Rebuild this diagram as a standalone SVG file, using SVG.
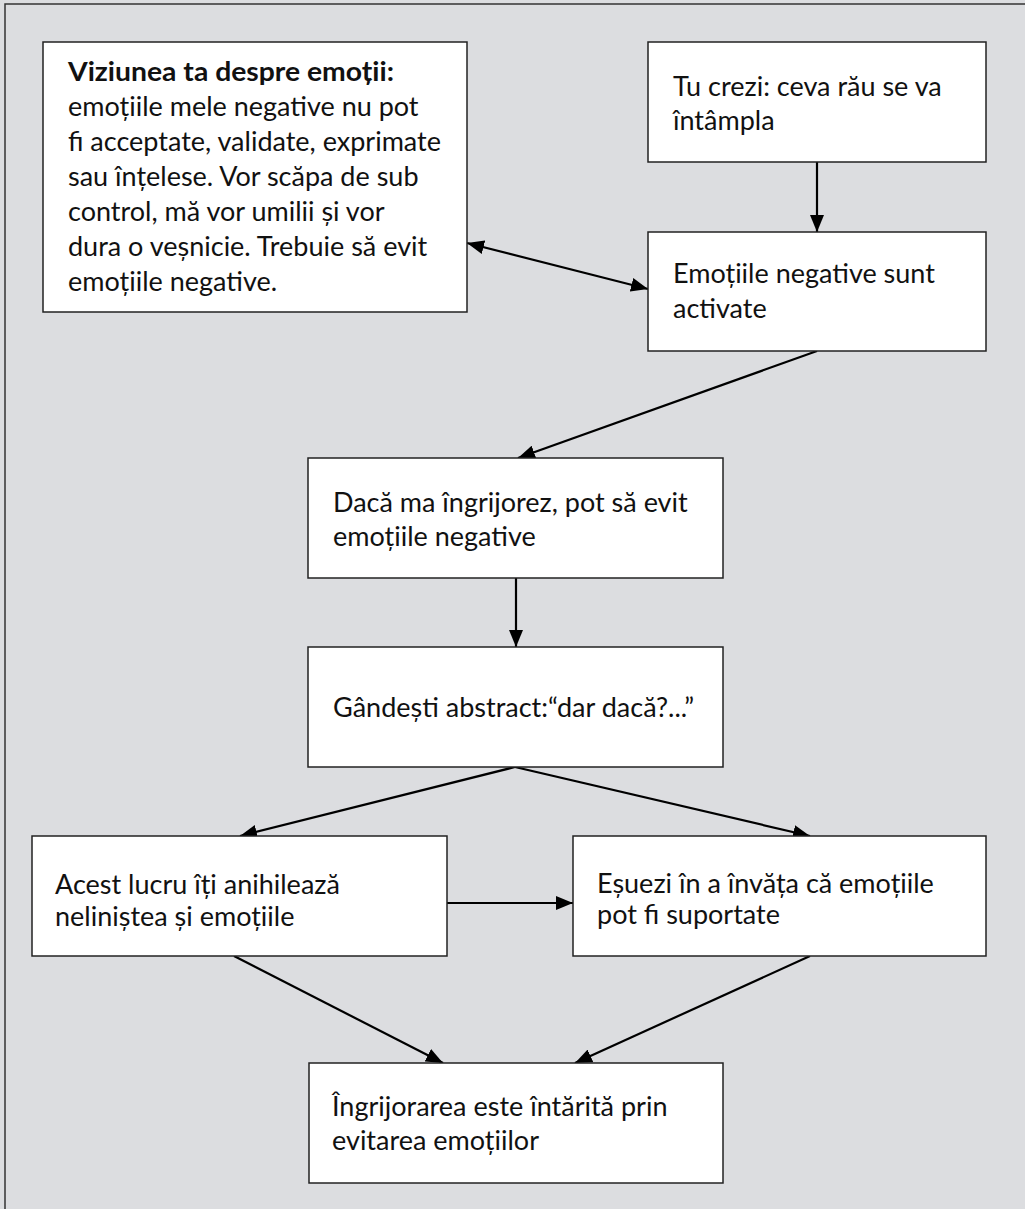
<svg xmlns="http://www.w3.org/2000/svg" width="1025" height="1209" viewBox="0 0 1025 1209">
<defs>
<style>
.box{fill:#ffffff;stroke:#222;stroke-width:1.5}
.t{font-family:Lato,"Open Sans","DejaVu Sans",sans-serif;font-size:27px;fill:#111}
.b{font-weight:bold}
.c{stroke:#000;stroke-width:2.2;fill:none}
</style>
<marker id="ah" markerUnits="userSpaceOnUse" markerWidth="18" markerHeight="14" refX="17" refY="7" orient="auto-start-reverse">
<path d="M0,0 L17,7 L0,14 z" fill="#000"/>
</marker>
</defs>
<rect x="0" y="0" width="1025" height="1209" fill="#dcdde0"/>
<rect x="5" y="4" width="1030" height="1220" fill="#dcdde0" stroke="#333" stroke-width="1.5"/>

<g id="connectors">
<line class="c" x1="817" y1="162" x2="817" y2="232" marker-end="url(#ah)"/>
<line class="c" x1="467" y1="243" x2="648" y2="289" marker-start="url(#ah)" marker-end="url(#ah)"/>
<line class="c" x1="817" y1="351" x2="518" y2="458" marker-end="url(#ah)"/>
<line class="c" x1="516" y1="578" x2="516" y2="647" marker-end="url(#ah)"/>
<line class="c" x1="515" y1="767" x2="240" y2="836" marker-end="url(#ah)"/>
<line class="c" x1="515" y1="767" x2="810" y2="836" marker-end="url(#ah)"/>
<line class="c" x1="447" y1="903" x2="573" y2="903" marker-end="url(#ah)"/>
<line class="c" x1="234" y1="956" x2="443" y2="1063" marker-end="url(#ah)"/>
<line class="c" x1="810" y1="956" x2="575" y2="1063" marker-end="url(#ah)"/>
</g>

<g id="node-viziunea">
<rect class="box" x="43" y="42" width="424" height="270"/>
<text class="t"><tspan class="b" x="68" y="81" textLength="326" lengthAdjust="spacingAndGlyphs">Viziunea ta despre emoții:</tspan><tspan x="68" y="116">emoțiile mele negative nu pot</tspan><tspan x="68" y="151">fi acceptate, validate, exprimate</tspan><tspan x="68" y="186">sau înțelese. Vor scăpa de sub</tspan><tspan x="68" y="221">control, mă vor umilii și vor</tspan><tspan x="68" y="256">dura o veșnicie. Trebuie să evit</tspan><tspan x="68" y="291">emoțiile negative.</tspan></text>
</g>

<g id="node-crezi">
<rect class="box" x="648" y="42" width="338" height="120"/>
<text class="t"><tspan x="673" y="96">Tu crezi: ceva rău se va</tspan><tspan x="673" y="130">întâmpla</tspan></text>
</g>

<g id="node-activate">
<rect class="box" x="648" y="232" width="338" height="119"/>
<text class="t"><tspan x="673" y="283">Emoțiile negative sunt</tspan><tspan x="673" y="318">activate</tspan></text>
</g>

<g id="node-daca">
<rect class="box" x="308" y="458" width="415" height="120"/>
<text class="t"><tspan x="333" y="512">Dacă ma îngrijorez, pot să evit</tspan><tspan x="333" y="546">emoțiile negative</tspan></text>
</g>

<g id="node-gandesti">
<rect class="box" x="308" y="647" width="415" height="120"/>
<text class="t" x="333" y="717">Gândești abstract:“dar dacă?...”</text>
</g>

<g id="node-acest">
<rect class="box" x="32" y="836" width="415" height="120"/>
<text class="t"><tspan x="55" y="894">Acest lucru îți anihilează</tspan><tspan x="55" y="926">neliniștea și emoțiile</tspan></text>
</g>

<g id="node-esuezi">
<rect class="box" x="573" y="836" width="413" height="120"/>
<text class="t"><tspan x="597" y="893">Eșuezi în a învăța că emoțiile</tspan><tspan x="597" y="924">pot fi suportate</tspan></text>
</g>

<g id="node-ingrijorarea">
<rect class="box" x="309" y="1063" width="414" height="120"/>
<text class="t"><tspan x="332" y="1116">Îngrijorarea este întărită prin</tspan><tspan x="332" y="1150">evitarea emoțiilor</tspan></text>
</g>
</svg>
